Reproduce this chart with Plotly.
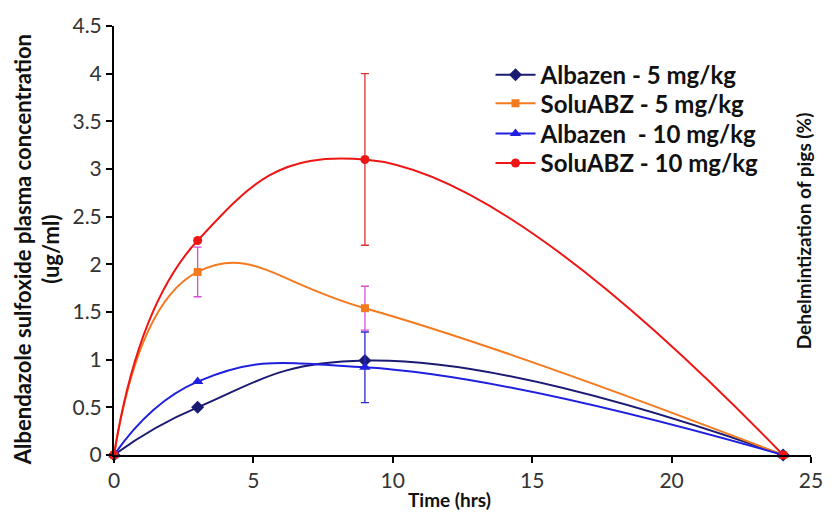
import plotly.graph_objects as go

time_hrs = [0, 3, 9, 24]
albazen_5 = [0, 0.50, 0.99, 0]
soluabz_5 = [0, 1.92, 1.54, 0]
albazen_10 = [0, 0.77, 0.92, 0]
soluabz_10 = [0, 2.25, 3.10, 0]

soluabz_5_err = [None, 0.26, 0.23, None]
albazen_10_err = [None, None, 0.37, None]
soluabz_10_err = [None, None, 0.90, None]

series_names = ["Albazen - 5 mg/kg", "SoluABZ - 5 mg/kg", "Albazen  - 10 mg/kg", "SoluABZ - 10 mg/kg"]
x_ticks = [0, 5, 10, 15, 20, 25]
y_ticks = [0, 0.5, 1, 1.5, 2, 2.5, 3, 3.5, 4, 4.5]
y_tick_labels = ["0", "0.5", "1", "1.5", "2", "2.5", "3", "3.5", "4", "4.5"]

FONT = "Lato"
fig = go.Figure()

specs = [
    (albazen_5, None, "#1b1a73", "diamond", 10, None),
    (soluabz_5, soluabz_5_err, "#f47a20", "square", 8, "#d64fd6"),
    (albazen_10, albazen_10_err, "#1f1fe0", "triangle-up", 10, "#2a2ad6"),
    (soluabz_10, soluabz_10_err, "#ee1515", "circle", 9, "#e03030"),
]
legends = ["legend", "legend2", "legend3", "legend4"]

for (vals, err, col, sym, msize, ecol), name, lg in zip(specs, series_names, legends):
    kw = {}
    if err is not None:
        kw["error_y"] = dict(type="data", array=err, visible=True, color=ecol, thickness=1.3, width=4)
    fig.add_trace(go.Scatter(
        x=time_hrs, y=vals, name="<b>" + name + "</b>", mode="lines+markers",
        line=dict(color=col, width=2, shape="spline", smoothing=1.3),
        marker=dict(symbol=sym, size=msize, color=col),
        cliponaxis=False, legend=lg, **kw))

legend_common = dict(font=dict(family=FONT, size=24, color="#111"), bgcolor="rgba(0,0,0,0)",
                     xanchor="left", yanchor="middle", itemwidth=40)
ys = [68, 97, 128, 158]
layout_leg = {}
for lg, yp in zip(legends, ys):
    layout_leg[lg] = dict(legend_common, x=(497 - 114) / (823 - 114), y=(455 - yp) / (455 - 18))

fig.update_layout(
    width=835, height=512,
    margin=dict(l=114, r=12, t=18, b=57),
    plot_bgcolor="white", paper_bgcolor="white",
    showlegend=True,
    xaxis=dict(range=[0, 25], tickvals=x_ticks, showline=True, linecolor="black", linewidth=2,
               ticks="outside", ticklen=6, tickwidth=2, tickcolor="black", showgrid=False, zeroline=False,
               ticklabeloverflow="allow",
               tickfont=dict(family=FONT, size=21, color="#333")),
    yaxis=dict(range=[0, 4.5], tickvals=y_ticks, ticktext=y_tick_labels, showline=True, linecolor="black",
               linewidth=2, ticks="outside", ticklen=6, tickwidth=2, tickcolor="black", showgrid=False,
               zeroline=False, ticklabeloverflow="allow", tickfont=dict(family=FONT, size=21, color="#333")),
    **layout_leg,
)

fig.add_annotation(text="<b>Albendazole sulfoxide plasma concentration<br>(ug/ml)</b>", textangle=-90,
                   xref="paper", yref="paper", x=-(114 - 35) / 709, y=(455 - 246) / 437,
                   xanchor="center", yanchor="middle",
                   showarrow=False, font=dict(family=FONT, size=22, color="#111"))
fig.add_annotation(text="<b>Time (hrs)</b>", xref="paper", yref="paper",
                   x=(455 - 114) / 709, y=-(500 - 455) / 437, showarrow=False,
                   xanchor="center", yanchor="middle",
                   font=dict(family=FONT, size=19, color="#111"))
fig.add_annotation(text="<b>Dehelmintization of pigs (%)</b>", textangle=-90, xref="paper", yref="paper",
                   x=(815 - 114) / 709, y=(455 - 227) / 437, showarrow=False,
                   xanchor="center", yanchor="middle",
                   font=dict(family=FONT, size=19, color="#111"))

fig.write_html("out.html")
